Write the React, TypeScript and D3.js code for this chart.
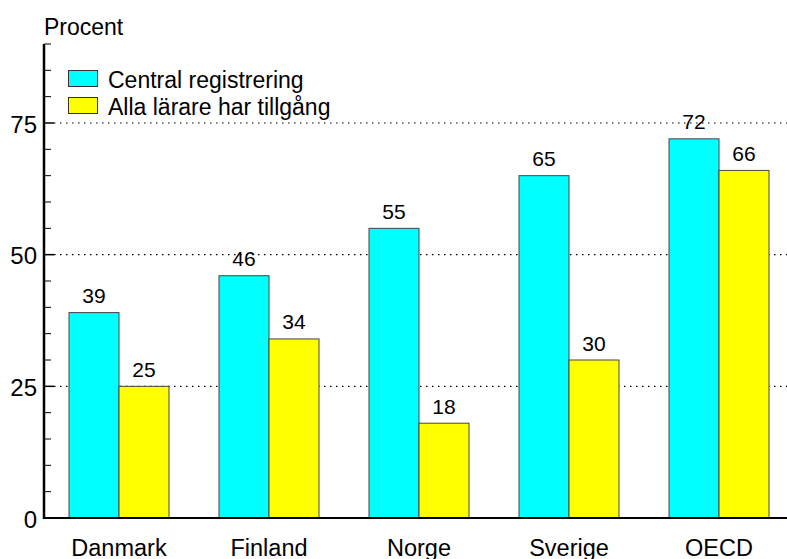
import React from "react";
import * as d3 from "d3";

const categories = ["Danmark", "Finland", "Norge", "Sverige", "OECD"];
const seriesNames = ["Central registrering", "Alla lärare har tillgång"];
const centralValues = [39, 46, 55, 65, 72];
const allaValues = [25, 34, 18, 30, 66];
const seriesColors = ["#00FFFF", "#FFFF00"];
const majorTicks = [0, 25, 50, 75];
const minorTicks = [5, 10, 15, 20, 30, 35, 40, 45, 55, 60, 65, 70, 80, 85, 90];

export default function App() {
  const W = 787, H = 559;
  const x0 = 44, yZero = 518, yTop = 44;
  const y = d3.scaleLinear().domain([0, 90]).range([yZero, yTop]);
  const x = d3.scaleBand<string>().domain(categories).range([x0, x0 + 750]).paddingInner(1 / 3).paddingOuter(1 / 6);
  const xs = d3.scaleBand<string>().domain(seriesNames).range([0, x.bandwidth()]);
  const seriesValues = [centralValues, allaValues];
  const font = "Arial, 'Liberation Sans', sans-serif";

  return (
    <svg width={W} height={H} style={{ position: "absolute", left: 0, top: 0 }} fontFamily={font}>
      <rect x={0} y={0} width={W} height={H} fill="#fff" />
      {/* gridlines */}
      {majorTicks.filter(t => t > 0).map(t => (
        <line key={"g" + t} x1={x0 + 10} x2={W} y1={y(t)} y2={y(t)} stroke="#000" strokeWidth={1.2} strokeDasharray="1.5,4.5" />
      ))}
      {/* bars */}
      {categories.map((c, i) => seriesNames.map((s, j) => {
        const v = seriesValues[j][i];
        const bx = (x(c) ?? 0) + (xs(s) ?? 0);
        return (
          <g key={c + s}>
            <rect x={bx} y={y(v)} width={xs.bandwidth()} height={yZero - y(v)} fill={seriesColors[j]} stroke="#444" strokeWidth={1} />
            <text x={bx + xs.bandwidth() / 2} y={y(v) - 9.5} textAnchor="middle" fontSize={21} fill="#000">{v}</text>
          </g>
        );
      }))}
      {/* axes */}
      <line x1={x0} x2={x0} y1={yTop} y2={yZero + 1} stroke="#000" strokeWidth={2.5} />
      <line x1={x0 - 1} x2={W} y1={yZero} y2={yZero} stroke="#000" strokeWidth={2} />
      {minorTicks.map(t => (
        <line key={"m" + t} x1={x0} x2={x0 + 7} y1={y(t)} y2={y(t)} stroke="#000" strokeWidth={1} />
      ))}
      {majorTicks.map(t => (
        <g key={"t" + t}>
          <line x1={x0} x2={x0 + 10} y1={y(t)} y2={y(t)} stroke="#000" strokeWidth={1.5} />
          <text x={37} y={y(t) + 9.5} textAnchor="end" fontSize={24} fill="#000">{t}</text>
        </g>
      ))}
      <text x={44} y={35} fontSize={23} fill="#000">Procent</text>
      {categories.map(c => (
        <text key={"l" + c} x={(x(c) ?? 0) + x.bandwidth() / 2} y={555.5} textAnchor="middle" fontSize={23.5} fill="#000">{c}</text>
      ))}
      {/* legend */}
      {seriesNames.map((s, j) => (
        <g key={"lg" + s}>
          <rect x={68.5} y={70.5 + j * 27} width={29} height={16} fill={seriesColors[j]} stroke="#333" strokeWidth={1} />
          <text x={108} y={88 + j * 27} fontSize={23} fill="#000">{s}</text>
        </g>
      ))}
    </svg>
  );
}
